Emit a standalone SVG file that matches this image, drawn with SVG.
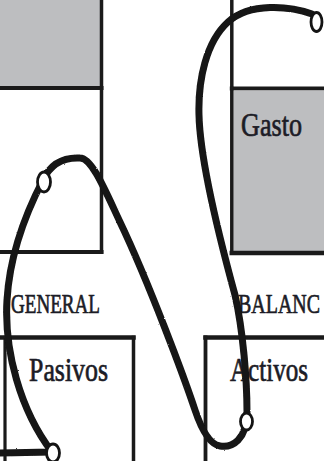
<svg xmlns="http://www.w3.org/2000/svg" width="324" height="461" viewBox="0 0 324 461">
<defs>
<style>
.ln{stroke:#1a1a1a;stroke-width:4;fill:none;stroke-linecap:square}
.gray{fill:#bdbec0}
.lbl{font-family:"Liberation Serif","Times New Roman",serif;fill:#1c1c26;stroke:#1c1c26;stroke-width:0.7}
.rope{stroke:#141414;stroke-width:7;fill:none;stroke-linecap:round;stroke-linejoin:round}
.ring{fill:#fff;stroke:#141414;stroke-width:2.8}
</style>
<filter id="rough" x="-5%" y="-5%" width="110%" height="110%">
<feTurbulence type="fractalNoise" baseFrequency="0.5" numOctaves="2" seed="3" result="n"/>
<feDisplacementMap in="SourceGraphic" in2="n" scale="1.8" xChannelSelector="R" yChannelSelector="G"/>
</filter>
</defs>
<rect width="324" height="461" fill="#fff"/>

<g id="box-top-left">
<rect class="gray" x="0" y="0" width="100" height="87"/>
<line class="ln" x1="0" y1="88" x2="101.5" y2="88"/>
</g>
<g id="box-left-middle">
<line class="ln" x1="101.5" y1="0" x2="101.5" y2="252" style="stroke-width:3.5"/>
<line class="ln" x1="0" y1="252" x2="101.5" y2="252"/>
</g>
<g id="box-top-right">
<line class="ln" x1="231.8" y1="0" x2="231.8" y2="88" style="stroke-width:3.5"/>
<line class="ln" x1="231.8" y1="88.5" x2="326" y2="88.5"/>
</g>
<g id="box-gasto">
<rect class="gray" x="233.5" y="90.5" width="92" height="160.5"/>
<line class="ln" x1="231.8" y1="88.5" x2="231.8" y2="253" style="stroke-width:3.5"/>
<line class="ln" x1="231.8" y1="253" x2="326" y2="253" style="stroke-width:4.5"/>
<text class="lbl" x="241" y="136" font-size="34" textLength="61" lengthAdjust="spacingAndGlyphs">Gasto</text>
</g>
<g id="label-general">
<text class="lbl" x="11" y="313" font-size="28" textLength="89" lengthAdjust="spacingAndGlyphs">GENERAL</text>
</g>
<g id="label-balance">
<text class="lbl" x="238" y="313" font-size="28" textLength="82" lengthAdjust="spacingAndGlyphs">BALANC</text>
</g>
<g id="box-pasivos">
<line class="ln" x1="0" y1="337.5" x2="133.5" y2="337.5" style="stroke-width:4.5"/>
<line class="ln" x1="5" y1="337.5" x2="5" y2="463" style="stroke-width:3.2"/>
<line class="ln" x1="133.5" y1="337.5" x2="133.5" y2="463" style="stroke-width:3.5"/>
<text class="lbl" x="29" y="381" font-size="33" textLength="79" lengthAdjust="spacingAndGlyphs">Pasivos</text>
</g>
<g id="box-activos">
<line class="ln" x1="205.5" y1="337.5" x2="326" y2="337.5" style="stroke-width:4.5"/>
<line class="ln" x1="205.5" y1="337.5" x2="205.5" y2="463" style="stroke-width:3.8"/>
<text class="lbl" x="230" y="381" font-size="33" textLength="78" lengthAdjust="spacingAndGlyphs">Activos</text>
</g>

<g id="connectors">
<path class="rope" filter="url(#rough)" d="M312,14 C290,6 250,2 228,22 C206,42 198,80 199,115 C200,160 220,240 235,295 C243,330 247,380 247,412 C247,440 232,448 220,446 C208,444 200,425 195,410 C185,380 150,285 120,222 C105,190 92,158 80,158 C62,157 50,165 43,180 C30,205 10,250 7,300 C4,350 20,410 52,452 L0,453"/>
<ellipse class="ring" cx="316.5" cy="22" rx="5.5" ry="9.5"/>
<ellipse class="ring" cx="44" cy="182" rx="6.5" ry="10"/>
<ellipse class="ring" cx="246.5" cy="421.5" rx="6" ry="8.5"/>
<ellipse class="ring" cx="53" cy="453" rx="6.5" ry="9"/>
</g>
</svg>
